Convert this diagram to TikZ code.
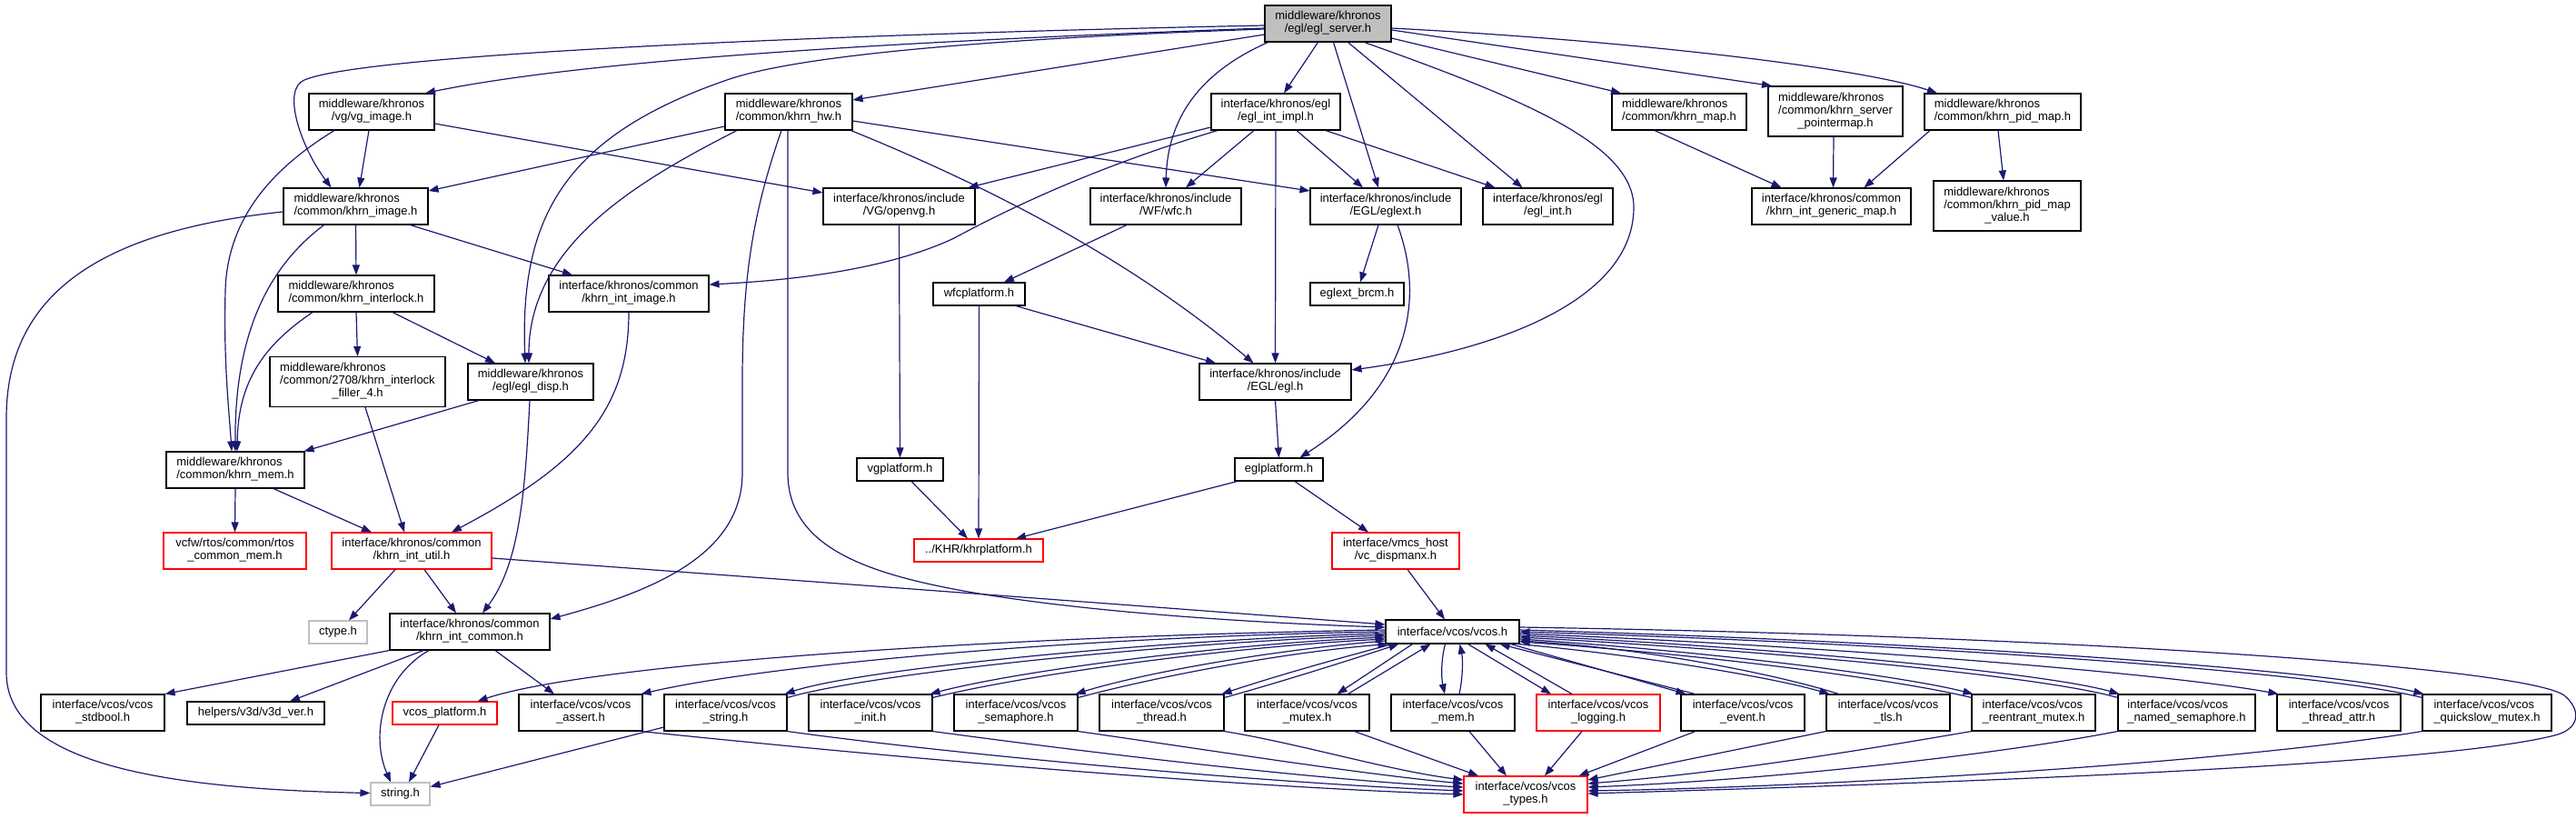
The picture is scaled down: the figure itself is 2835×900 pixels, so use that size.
\documentclass[tikz,border=0pt]{standalone}
\usepackage{fontspec}
\setmainfont{Liberation Sans}
\usetikzlibrary{arrows.meta,calc}
\definecolor{edgeblue}{HTML}{191970}
\definecolor{boxgray}{HTML}{BFBFBF}
\newcommand{\twoln}[2]{\begin{tabular}{@{}l@{}}#1\\\multicolumn{1}{@{}c@{}}{#2}\end{tabular}}
\newcommand{\threeln}[3]{\begin{tabular}{@{}l@{}}#1\\#2\\\multicolumn{1}{@{}c@{}}{#3}\end{tabular}}
\tikzset{
  box/.style={draw=black, line width=1.1pt, inner sep=0pt, minimum height=40pt, fill=white,
    font=\fontsize{13}{14}\selectfont},
  sbox/.style={box, minimum height=25pt},
  tbox/.style={box, minimum height=55pt},
  redb/.style={draw=red},
  grayb/.style={draw=boxgray},
  e/.style={draw=edgeblue, line width=1.2pt, -{Triangle[length=11pt,width=8pt]}},
}
\begin{document}
\begin{tikzpicture}[x=1pt,y=-1pt]
\useasboundingbox (0,0) rectangle (2835,900);
% ---------------- nodes ----------------
\node[box, minimum width=139pt, fill=boxgray] (server) at (1461.5,26) {\twoln{middleware/khronos}{/egl/egl\_server.h}};
\node[box, minimum width=138pt] (vgimage) at (409,123) {\twoln{middleware/khronos}{/vg/vg\_image.h}};
\node[box, minimum width=159pt] (khrnimage) at (391.5,227) {\twoln{middleware/khronos}{/common/khrn\_image.h}};
\node[box, minimum width=140pt] (khrnhw) at (868,123) {\twoln{middleware/khronos}{/common/khrn\_hw.h}};
\node[box, minimum width=142pt] (eglintimpl) at (1404,123) {\twoln{interface/khronos/egl}{/egl\_int\_impl.h}};
\node[box, minimum width=167pt] (openvg) at (989.5,227) {\twoln{interface/khronos/include}{/VG/openvg.h}};
\node[box, minimum width=166pt] (wfc) at (1283,227) {\twoln{interface/khronos/include}{/WF/wfc.h}};
\node[box, minimum width=166pt] (eglext) at (1525,227) {\twoln{interface/khronos/include}{/EGL/eglext.h}};
\node[box, minimum width=143pt] (eglint) at (1703.5,227) {\twoln{interface/khronos/egl}{/egl\_int.h}};
\node[box, minimum width=148pt] (khrnmap) at (1848,123) {\twoln{middleware/khronos}{/common/khrn\_map.h}};
\node[tbox, minimum width=148pt] (pointermap) at (2020,122.5) {\threeln{middleware/khronos}{/common/khrn\_server}{\_pointermap.h}};
\node[box, minimum width=175pt] (genericmap) at (2015.5,227) {\twoln{interface/khronos/common}{/khrn\_int\_generic\_map.h}};
\node[box, minimum width=172pt] (pidmap) at (2204,123) {\twoln{middleware/khronos}{/common/khrn\_pid\_map.h}};
\node[tbox, minimum width=162pt] (pidvalue) at (2209,226.5) {\threeln{middleware/khronos}{/common/khrn\_pid\_map}{\_value.h}};
\node[box, minimum width=172pt] (interlock) at (392,323) {\twoln{middleware/khronos}{/common/khrn\_interlock.h}};
\node[tbox, minimum width=193pt] (filler) at (393.5,420) {\threeln{middleware/khronos}{/common/2708/khrn\_interlock}{\_filler\_4.h}};
\node[box, minimum width=138pt] (egldisp) at (584,420) {\twoln{middleware/khronos}{/egl/egl\_disp.h}};
\node[box, minimum width=176pt] (intimage) at (692,323) {\twoln{interface/khronos/common}{/khrn\_int\_image.h}};
\node[box, minimum width=152pt] (khrnmem) at (259,517) {\twoln{middleware/khronos}{/common/khrn\_mem.h}};
\node[box, redb, minimum width=157pt] (rtosmem) at (258.5,606) {\twoln{vcfw/rtos/common/rtos}{\_common\_mem.h}};
\node[box, redb, minimum width=176pt] (intutil) at (453,606) {\twoln{interface/khronos/common}{/khrn\_int\_util.h}};
\node[sbox, minimum width=101pt] (wfcplat) at (1077.5,323.5) {wfcplatform.h};
\node[sbox, minimum width=95pt] (vgplat) at (990.5,516.5) {vgplatform.h};
\node[box, minimum width=167pt] (eglh) at (1403.5,420) {\twoln{interface/khronos/include}{/EGL/egl.h}};
\node[sbox, minimum width=97pt] (eglplat) at (1407.5,516.5) {eglplatform.h};
\node[sbox, redb, minimum width=142pt] (khrplat) at (1077,605.5) {../KHR/khrplatform.h};
\node[sbox, minimum width=103pt] (brcm) at (1493.5,323.5) {eglext\_brcm.h};
\node[box, redb, minimum width=140pt] (dispmanx) at (1536,606) {\twoln{interface/vmcs\_host}{/vc\_dispmanx.h}};
\node[sbox, grayb, minimum width=64pt] (ctype) at (372,695.5) {ctype.h};
\node[box, minimum width=176pt] (intcommon) at (517,695) {\twoln{interface/khronos/common}{/khrn\_int\_common.h}};
\node[box, minimum width=136pt] (stdbool) at (113,784) {\twoln{interface/vcos/vcos}{\_stdbool.h}};
\node[sbox, minimum width=151pt] (v3dver) at (281.5,784.5) {helpers/v3d/v3d\_ver.h};
\node[sbox, redb, minimum width=115pt] (vcosplat) at (489.5,784.5) {vcos\_platform.h};
\node[box, minimum width=136pt] (assert) at (639,784) {\twoln{interface/vcos/vcos}{\_assert.h}};
\node[sbox, grayb, minimum width=65pt] (stringh) at (440.5,873.5) {string.h};
\node[box, minimum width=135pt] (vstring) at (798.5,784) {\twoln{interface/vcos/vcos}{\_string.h}};
\node[box, minimum width=136pt] (vinit) at (958,784) {\twoln{interface/vcos/vcos}{\_init.h}};
\node[box, minimum width=136pt] (vsem) at (1118,784) {\twoln{interface/vcos/vcos}{\_semaphore.h}};
\node[box, minimum width=137pt] (vthread) at (1278.5,784) {\twoln{interface/vcos/vcos}{\_thread.h}};
\node[box, minimum width=137pt] (vmutex) at (1438.5,784) {\twoln{interface/vcos/vcos}{\_mutex.h}};
\node[box, minimum width=136pt] (vmem) at (1599,784) {\twoln{interface/vcos/vcos}{\_mem.h}};
\node[box, redb, minimum width=136pt] (vlog) at (1759,784) {\twoln{interface/vcos/vcos}{\_logging.h}};
\node[box, minimum width=136pt] (vevent) at (1918,784) {\twoln{interface/vcos/vcos}{\_event.h}};
\node[box, minimum width=136pt] (vtls) at (2078,784) {\twoln{interface/vcos/vcos}{\_tls.h}};
\node[box, minimum width=136pt] (vreent) at (2238,784) {\twoln{interface/vcos/vcos}{\_reentrant\_mutex.h}};
\node[box, minimum width=151pt] (vnamed) at (2406.5,784) {\twoln{interface/vcos/vcos}{\_named\_semaphore.h}};
\node[box, minimum width=136pt] (vtattr) at (2574,784) {\twoln{interface/vcos/vcos}{\_thread\_attr.h}};
\node[box, minimum width=142pt] (vquick) at (2737,784) {\twoln{interface/vcos/vcos}{\_quickslow\_mutex.h}};
\node[box, minimum width=147pt, minimum height=26pt] (vcosh) at (1598.5,695) {interface/vcos/vcos.h};
\node[box, redb, minimum width=136pt] (vtypes) at (1679,874) {\twoln{interface/vcos/vcos}{\_types.h}};
% ---------------- edges ----------------
% egl_server
\draw[e] ($(server.west)+(0,2)$) .. controls (900,38) and (400,60) .. (335,88) .. controls (310,98) and (330,160) .. ($(khrnimage.north)+(-27,0)$);
\draw[e] ($(server.west)+(0,5)$) .. controls (1000,45) and (650,65) .. ($(vgimage.north)+(59,0)$);
\draw[e] ($(server.west)+(0,6)$) .. controls (1100,42) and (880,60) .. (800,88) .. controls (620,150) and (572,240) .. ($(egldisp.north)+(-6,0)$);
\draw[e] ($(server.west)+(0,12)$) -- ($(khrnhw.east)+(0,-13)$);
\draw[e] ($(server.south west)+(4,0)$) .. controls (1320,80) and (1285,130) .. (wfc.north);
\draw[e] ($(server.south)+(-11,0)$) -- ($(eglintimpl.north)+(9,0)$);
\draw[e] ($(server.south)+(6,0)$) -- ($(eglext.north)+(-8,0)$);
\draw[e] ($(server.south)+(22,0)$) -- ($(eglint.north)+(-28,0)$);
\draw[e] ($(server.south)+(40,0)$) .. controls (1680,110) and (1800,160) .. (1798,230) .. controls (1796,330) and (1650,385) .. ($(eglh.east)+(0,-13)$);
\draw[e] ($(server.east)+(0,16)$) -- ($(khrnmap.north)+(-64,0)$);
\draw[e] ($(server.east)+(0,7)$) -- ($(pointermap.north)+(-70,0)$);
\draw[e] ($(server.east)+(0,5)$) .. controls (1800,45) and (2050,75) .. ($(pidmap.north)+(-72,0)$);
% right column
\draw[e] ($(khrnmap.south)+(-27,0)$) -- ($(genericmap.north)+(-55,0)$);
\draw[e] ($(pointermap.south)+(-2,0)$) -- ($(genericmap.north)+(2,0)$);
\draw[e] ($(pidmap.south)+(-80,0)$) -- ($(genericmap.north)+(36,0)$);
\draw[e] ($(pidmap.south)+(-5,0)$) -- ($(pidvalue.north)+(-4,0)$);
% vg_image
\draw[e] ($(vgimage.south)+(-3,0)$) -- ($(khrnimage.north)+(4,0)$);
\draw[e] ($(vgimage.south)+(-41,0)$) .. controls (300,185) and (250,240) .. (248,320) .. controls (246,400) and (252,450) .. ($(khrnmem.north)+(-4,0)$);
\draw[e] ($(vgimage.east)+(0,13)$) -- ($(openvg.west)+(0,-15)$);
% khrn_image
\draw[e] ($(khrnimage.west)+(0,6)$) .. controls (100,255) and (7,330) .. (7,460) -- (7,740) .. controls (7,845) and (200,868) .. ($(stringh.west)+(0,-1)$);
\draw[e] ($(khrnimage.south)+(-35,0)$) .. controls (300,290) and (258,360) .. (khrnmem.north);
\draw[e] (khrnimage.south) -- (interlock.north);
\draw[e] ($(khrnimage.south)+(60,0)$) -- ($(intimage.north)+(-62,0)$);
% khrn_hw
\draw[e] ($(khrnhw.west)+(0,16)$) -- ($(khrnimage.east)+(0,-17)$);
\draw[e] ($(khrnhw.south)+(-57,0)$) .. controls (700,200) and (582,270) .. ($(egldisp.north)+(-2,0)$);
\draw[e] ($(khrnhw.south)+(-8,0)$) .. controls (830,230) and (817,300) .. (817,420) -- (817,520) .. controls (817,610) and (720,650) .. ($(intcommon.east)+(0,-14)$);
\draw[e] ($(khrnhw.south)+(-1,0)$) -- (867,520) .. controls (867,600) and (950,630) .. (1060,650) .. controls (1200,675) and (1400,686) .. ($(vcosh.west)+(0,-5)$);
\draw[e] ($(khrnhw.south east)+(-2,0)$) .. controls (1100,210) and (1250,290) .. ($(eglh.north)+(-24,0)$);
\draw[e] ($(khrnhw.east)+(0,10)$) -- ($(eglext.west)+(0,-17)$);
% egl_int_impl
\draw[e] ($(eglintimpl.west)+(0,17)$) -- ($(openvg.north)+(76,0)$);
\draw[e] ($(eglintimpl.south)+(-64,0)$) .. controls (1200,185) and (1100,235) .. (1050,262) .. controls (980,295) and (880,308) .. ($(intimage.east)+(0,-10)$);
\draw[e] ($(eglintimpl.south)+(-24,0)$) -- ($(wfc.north)+(22,0)$);
\draw[e] (eglintimpl.south) -- (eglh.north);
\draw[e] ($(eglintimpl.south)+(23,0)$) -- ($(eglext.north)+(-25,0)$);
\draw[e] ($(eglintimpl.south)+(55,0)$) -- ($(eglint.north)+(-58,0)$);
% eglext
\draw[e] ($(eglext.south)+(-8,0)$) -- ($(brcm.north)+(3.5,0)$);
\draw[e] ($(eglext.south)+(13,0)$) .. controls (1565,320) and (1560,420) .. ($(eglplat.north)+(23,0)$);
% wfc, openvg
\draw[e] ($(wfc.south)+(-43,0)$) -- ($(wfcplat.north)+(27.5,0)$);
\draw[e] (openvg.south) -- (vgplat.north);
% platforms
\draw[e] (wfcplat.south) -- (khrplat.north);
\draw[e] ($(wfcplat.south)+(40.5,0)$) -- ($(eglh.north)+(-65.5,0)$);
\draw[e] ($(vgplat.south)+(12.5,0)$) -- ($(khrplat.north)+(-12,0)$);
\draw[e] (eglh.south) -- (eglplat.north);
\draw[e] ($(eglplat.south west)+(3,0)$) -- ($(khrplat.north)+(41,0)$);
\draw[e] ($(eglplat.south)+(17.5,0)$) -- ($(dispmanx.north)+(-30,0)$);
\draw[e] ($(dispmanx.south)+(13,0)$) -- ($(vcosh.north)+(-8.5,0)$);
% interlock
\draw[e] ($(interlock.south)+(-48,0)$) .. controls (290,380) and (262,420) .. ($(khrnmem.north)+(2,0)$);
\draw[e] (interlock.south) -- (filler.north);
\draw[e] ($(interlock.south)+(40,0)$) -- ($(egldisp.north)+(-39,0)$);
% int_image, filler, egl_disp
\draw[e] (intimage.south) .. controls (692,450) and (640,510) .. ($(intutil.north)+(44,0)$);
\draw[e] ($(filler.south)+(8.5,0)$) -- ($(intutil.north)+(-8,0)$);
\draw[e] ($(egldisp.south)+(-57,0)$) -- ($(khrnmem.north east)+(-1,0)$);
\draw[e] ($(egldisp.south)+(-1,0)$) .. controls (578,540) and (572,620) .. ($(intcommon.north)+(14,0)$);
% khrn_mem
\draw[e] (khrnmem.south) -- (rtosmem.north);
\draw[e] ($(khrnmem.south)+(42,0)$) -- ($(intutil.north)+(-44,0)$);
% khrn_int_util
\draw[e] ($(intutil.south)+(-18,0)$) -- ($(ctype.north)+(12,0)$);
\draw[e] ($(intutil.south)+(14,0)$) -- ($(intcommon.north)+(-15,0)$);
\draw[e] ($(intutil.east)+(0,8)$) .. controls (900,640) and (1300,670) .. ($(vcosh.west)+(0,-8)$);
% khrn_int_common
\draw[e] (intcommon.south west) -- (stdbool.north east);
\draw[e] ($(intcommon.south)+(-51,0)$) -- ($(v3dver.north)+(37.5,0)$);
\draw[e] ($(intcommon.south)+(-45,0)$) .. controls (420,745) and (408,810) .. ($(stringh.north)+(-10.5,0)$);
\draw[e] ($(intcommon.south)+(28,0)$) -- ($(assert.north)+(-29,0)$);
\draw[e] ($(vcosplat.south)+(-6.5,0)$) -- ($(stringh.north)+(9.5,0)$);
\draw[e] ($(vstring.west)+(0,16)$) -- ($(stringh.east)+(0,-8)$);
% vcos.h -> left group
\draw[e] ($(vcosh.west)+(0,-2)$) .. controls (1100,700) and (650,730) .. ($(vcosplat.north east)+(-22,0)$);
\draw[e] (vcosh.west) .. controls (1200,700) and (850,730) .. ($(assert.north east)+(-2,0)$);
\draw[e] ($(vcosh.west)+(0,2)$) .. controls (1300,702) and (950,735) .. ($(vstring.north east)+(-3,0)$);
\draw[e] ($(vstring.north east)+(0,4)$) .. controls (960,740) and (1300,706) .. ($(vcosh.west)+(0,4)$);
\draw[e] ($(vcosh.west)+(0,6)$) .. controls (1350,708) and (1120,738) .. ($(vinit.north east)+(-3,0)$);
\draw[e] ($(vinit.north east)+(0,4)$) .. controls (1130,742) and (1350,712) .. ($(vcosh.west)+(0,8)$);
\draw[e] ($(vcosh.west)+(0,10)$) .. controls (1400,715) and (1260,740) .. ($(vsem.north east)+(-3,0)$);
\draw[e] ($(vsem.north east)+(0,4)$) .. controls (1270,745) and (1410,718) .. ($(vcosh.south west)+(3,0)$);
\draw[e] ($(vcosh.south west)+(8,0)$) .. controls (1470,725) and (1400,745) .. ($(vthread.north east)+(-3,0)$);
\draw[e] ($(vthread.north east)+(0,4)$) .. controls (1410,750) and (1480,728) .. ($(vcosh.south west)+(15,0)$);
\draw[e] ($(vcosh.south)+(-44,0)$) -- ($(vmutex.north)+(33,0)$);
\draw[e] ($(vmutex.north)+(45,0)$) -- ($(vcosh.south)+(-24,0)$);
\draw[e] ($(vcosh.south)+(-8,0)$) .. controls (1586,725) and (1586,745) .. ($(vmem.north)+(-9,0)$);
\draw[e] ($(vmem.north)+(7,0)$) .. controls (1610,745) and (1610,725) .. ($(vcosh.south)+(8,0)$);
\draw[e] ($(vcosh.south)+(17,0)$) -- ($(vlog.north)+(-52,0)$);
\draw[e] ($(vlog.north)+(-29,0)$) -- ($(vcosh.south)+(36,0)$);
\draw[e] ($(vcosh.south)+(64,0)$) -- ($(vevent.north west)+(6,0)$);
\draw[e] ($(vevent.north west)+(16,0)$) -- ($(vcosh.south)+(52,0)$);
% vcos.h -> right group
\draw[e] ($(vcosh.south east)+(-2,0)$) .. controls (1800,720) and (1950,745) .. ($(vtls.north west)+(4,0)$);
\draw[e] ($(vtls.north west)+(14,0)$) .. controls (1950,740) and (1800,712) .. ($(vcosh.east)+(0,10)$);
\draw[e] ($(vcosh.east)+(0,8)$) .. controls (1900,718) and (2100,745) .. ($(vreent.north west)+(2,0)$);
\draw[e] ($(vreent.north west)+(0,4)$) .. controls (2100,750) and (1900,722) .. ($(vcosh.east)+(0,11)$);
\draw[e] ($(vcosh.east)+(0,4)$) .. controls (1950,712) and (2250,740) .. ($(vnamed.north west)+(2,0)$);
\draw[e] ($(vnamed.north west)+(0,4)$) .. controls (2250,744) and (1950,716) .. ($(vcosh.east)+(0,6)$);
\draw[e] ($(vcosh.east)+(0,2)$) .. controls (2000,710) and (2380,740) .. ($(vtattr.north west)+(2,0)$);
\draw[e] ($(vcosh.east)+(0,-2)$) .. controls (2100,705) and (2550,735) .. ($(vquick.north west)+(2,0)$);
\draw[e] ($(vquick.north west)+(0,4)$) .. controls (2550,738) and (2100,708) .. ($(vcosh.east)+(0,0)$);
\draw[e] ($(vcosh.east)+(0,-5)$) .. controls (2300,700) and (2780,735) .. (2822,765) .. controls (2840,780) and (2840,800) .. (2815,808) .. controls (2700,840) and (2200,860) .. ($(vtypes.east)+(0,-1)$);
% -> vcos_types
\draw[e] ($(assert.south east)+(-2,0)$) .. controls (1000,835) and (1350,865) .. ($(vtypes.west)+(0,0)$);
\draw[e] (vstring.south east) .. controls (1050,830) and (1400,862) .. ($(vtypes.west)+(0,-4)$);
\draw[e] (vinit.south east) .. controls (1200,828) and (1450,858) .. ($(vtypes.west)+(0,-8)$);
\draw[e] (vsem.south east) .. controls (1330,825) and (1500,852) .. ($(vtypes.west)+(0,-12)$);
\draw[e] (vthread.south east) .. controls (1430,818) and (1530,848) .. ($(vtypes.west)+(0,-16)$);
\draw[e] ($(vmutex.south)+(52,0)$) -- ($(vtypes.north)+(-52,0)$);
\draw[e] ($(vmem.south)+(18,0)$) -- ($(vtypes.north)+(-21,0)$);
\draw[e] ($(vlog.south)+(-18,0)$) -- ($(vtypes.north)+(21,0)$);
\draw[e] ($(vevent.south)+(-52,0)$) -- ($(vtypes.north east)+(-10,0)$);
\draw[e] (vtls.south west) -- ($(vtypes.east)+(0,-16)$);
\draw[e] (vreent.south west) .. controls (2050,825) and (1900,850) .. ($(vtypes.east)+(0,-12)$);
\draw[e] (vnamed.south west) .. controls (2200,830) and (1950,858) .. ($(vtypes.east)+(0,-8)$);
\draw[e] (vquick.south west) .. controls (2450,840) and (2000,866) .. ($(vtypes.east)+(0,-4)$);
\end{tikzpicture}
\end{document}
